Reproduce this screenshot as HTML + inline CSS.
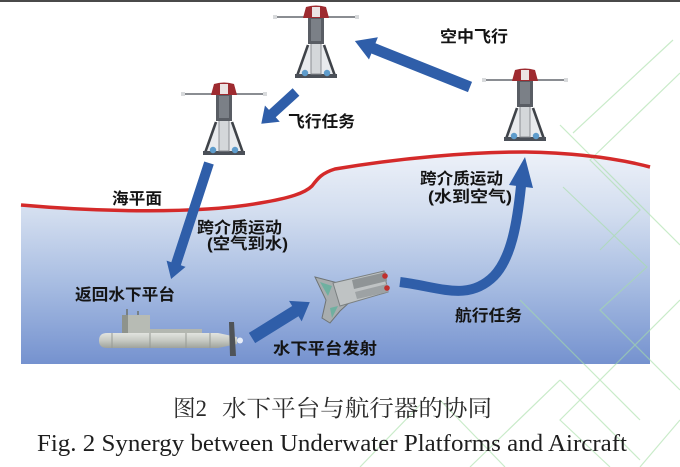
<!DOCTYPE html>
<html><head><meta charset="utf-8"><style>
html,body{margin:0;padding:0;background:#fff;}
body{width:680px;height:467px;overflow:hidden;}
svg{display:block;}
.lb{font-family:"Liberation Sans","Noto Sans CJK SC",sans-serif;font-weight:bold;font-size:16px;fill:#141414;}
.cap{font-family:"Liberation Serif","Noto Serif CJK SC",serif;font-size:23px;fill:#2a2a2a;}
.en{font-family:"Liberation Serif","Noto Serif CJK SC",serif;font-size:24px;fill:#1e1e1e;}
</style></head><body>
<svg width="680" height="467" viewBox="0 0 680 467" xmlns="http://www.w3.org/2000/svg">
<defs>
<linearGradient id="water" x1="0" y1="150" x2="0" y2="364" gradientUnits="userSpaceOnUse">
<stop offset="0" stop-color="#eef2f9"/>
<stop offset="0.3" stop-color="#d2ddef"/>
<stop offset="0.62" stop-color="#a8bde2"/>
<stop offset="1" stop-color="#7592cf"/>
</linearGradient>
<linearGradient id="hull" x1="0" y1="0" x2="0" y2="1">
<stop offset="0" stop-color="#e2e4df"/>
<stop offset="0.5" stop-color="#c6c9c3"/>
<stop offset="1" stop-color="#9fa39c"/>
</linearGradient>
<g id="drone">
<line x1="-42" y1="12" x2="42" y2="12" stroke="#8a8d92" stroke-width="2"/>
<rect x="-43" y="10" width="4" height="4" fill="#d8dadc"/>
<rect x="39" y="10" width="4" height="4" fill="#d8dadc"/>
<polygon points="-8,40 -17,70 17,70 8,40" fill="#e9ebee"/>
<path d="M-8,40 L-19,71 M8,40 L19,71" stroke="#3f4349" stroke-width="2.6" fill="none"/>
<rect x="-21" y="69" width="42" height="4" fill="#4b5058"/>
<rect x="-5" y="38" width="10" height="31" fill="#d4d7da" stroke="#8a8d92" stroke-width="1"/>
<rect x="-8" y="11" width="16" height="28" fill="#595d64"/>
<rect x="-5" y="14" width="10" height="22" fill="#7b8087"/>
<path d="M-13,13 L-10,2 Q0,-1 10,2 L13,13 Z" fill="#9e2b30"/>
<rect x="-4" y="2" width="8" height="10" fill="#ebe3e3"/>
<circle cx="-11" cy="68" r="3.2" fill="#5e9ccc"/>
<circle cx="11" cy="68" r="3.2" fill="#5e9ccc"/>
</g>
</defs>

<!-- top border -->
<rect x="0" y="0" width="680" height="2" fill="#4a4a4a"/>

<!-- water -->
<path d="M21,205 C100,212 200,214 260,203 C290,198 305,193 312,186 C318,178 322,173 335,169 C400,158 470,152 525,152 C580,153 620,159 650,167 L650,364 L21,364 Z" fill="url(#water)"/>

<!-- faint green watermark lines -->
<g stroke="#a6dea6" stroke-width="1.2" fill="none" opacity="0.6">
<path d="M680,73 L590,160 L640,210 L600,250"/>
<path d="M573,133 L673,40"/>
<path d="M560,125 L680,245"/>
<path d="M563,187 L647,267 L600,310 L680,390"/>
<path d="M520,300 L640,420"/>
<path d="M680,300 L560,420 L610,467"/>
<path d="M440,400 L505,467"/>
<path d="M560,380 L640,460"/>
<path d="M680,420 L640,467"/>
<path d="M470,467 L560,380"/>
<path d="M360,467 L420,405"/>
</g>

<!-- sea level line -->
<path d="M21,205 C100,212 200,214 260,203 C290,198 305,193 312,186 C318,178 322,173 335,169 C400,158 470,152 525,152 C580,153 620,159 650,167" fill="none" stroke="#d42a2a" stroke-width="3.5"/>

<!-- drones -->
<use href="#drone" transform="translate(316,5)"/>
<use href="#drone" transform="translate(224,82)"/>
<use href="#drone" transform="translate(525,68)"/>

<!-- submarine -->
<g>
<line x1="127" y1="309" x2="127" y2="316" stroke="#6b706a" stroke-width="1.5"/>
<line x1="138" y1="311" x2="138" y2="316" stroke="#6b706a" stroke-width="1.5"/>
<rect x="122" y="315" width="28" height="19" fill="#b7bbb4"/>
<rect x="122" y="315" width="6" height="19" fill="#8e938c"/>
<rect x="150" y="329" width="52" height="5" fill="#b3b7b0"/>
<path d="M107,333 L218,333 L237,337 L237,344 L218,348 L107,348 Q99,348 99,340.5 Q99,333 107,333 Z" fill="url(#hull)"/>
<g stroke="#979b95" stroke-width="1">
<line x1="112" y1="333" x2="112" y2="348"/>
<line x1="150" y1="333" x2="150" y2="348"/>
<line x1="186" y1="333" x2="186" y2="348"/>
<line x1="210" y1="333" x2="210" y2="348"/>
</g>
<path d="M229,322 L234,322 L236,356 L230,356 Z" fill="#4f5358"/>
<circle cx="240" cy="340.5" r="3" fill="#e8eef8"/>
</g>

<!-- shuttle -->
<g>
<polygon points="315,277 342,284 352,300 340,311 330,323 322,318 326,300" fill="#a8adae" stroke="#6f7475" stroke-width="1"/>
<polygon points="320,282 332,286 328,296" fill="#6fb0a0"/>
<polygon points="330,308 338,306 332,318" fill="#6fb0a0"/>
<polygon points="333,283 384,271 388,292 340,306" fill="#bfc3c4" stroke="#7b8081" stroke-width="1"/>
<polygon points="352,280 386,272 387,281 354,289" fill="#8f9496"/>
<polygon points="355,292 387,284 388,292 357,299" fill="#9da2a4"/>
<circle cx="385" cy="276" r="2.8" fill="#c0302e"/>
<circle cx="387" cy="288" r="2.8" fill="#c0302e"/>
</g>

<!-- arrows -->
<g fill="#2f5ea9">
<polygon transform="translate(470,87) rotate(201.8)" points="0,-5.5 104,-5.5 104,-12 124,0 104,12 104,5.5 0,5.5"/>
<polygon transform="translate(296,92) rotate(137.6)" points="0,-5 32,-5 32,-11 47,0 32,11 32,5 0,5"/>
<polygon transform="translate(209,163) rotate(108.1)" points="0,-5 106,-5 106,-10 122,0 106,10 106,5 0,5"/>
<polygon transform="translate(252,338) rotate(-31.8)" points="0,-6 51,-6 51,-12 68,0 51,12 51,6 0,6"/>
<polygon points="525,157 509,185 533,188"/>
</g>
<path d="M400,282 C440,287 468,302 494,276 C511,258 517,225 521,186" fill="none" stroke="#2f5ea9" stroke-width="10"/>

<!-- labels -->
<text class="lb" x="440" y="42" textLength="68" lengthAdjust="spacingAndGlyphs">空中飞行</text>
<text class="lb" x="288" y="127" textLength="67" lengthAdjust="spacingAndGlyphs">飞行任务</text>
<text class="lb" x="112" y="204" textLength="50" lengthAdjust="spacingAndGlyphs">海平面</text>
<text class="lb" x="197" y="233" textLength="85" lengthAdjust="spacingAndGlyphs">跨介质运动</text>
<text class="lb" x="207" y="249" textLength="81" lengthAdjust="spacingAndGlyphs">(空气到水)</text>
<text class="lb" x="75" y="300" textLength="100" lengthAdjust="spacingAndGlyphs">返回水下平台</text>
<text class="lb" x="273" y="354" textLength="104" lengthAdjust="spacingAndGlyphs">水下平台发射</text>
<text class="lb" x="455" y="321" textLength="67" lengthAdjust="spacingAndGlyphs">航行任务</text>
<text class="lb" x="420" y="184" textLength="83" lengthAdjust="spacingAndGlyphs">跨介质运动</text>
<text class="lb" x="428" y="202" textLength="84" lengthAdjust="spacingAndGlyphs">(水到空气)</text>

<!-- captions -->
<text class="cap" x="173" y="416" textLength="34" lengthAdjust="spacingAndGlyphs">图2</text>
<text class="cap" x="222" y="416" textLength="270" lengthAdjust="spacingAndGlyphs">水下平台与航行器的协同</text>
<text class="en" x="37" y="451" textLength="590" lengthAdjust="spacingAndGlyphs">Fig. 2 Synergy between Underwater Platforms and Aircraft</text>
</svg>
</body></html>
